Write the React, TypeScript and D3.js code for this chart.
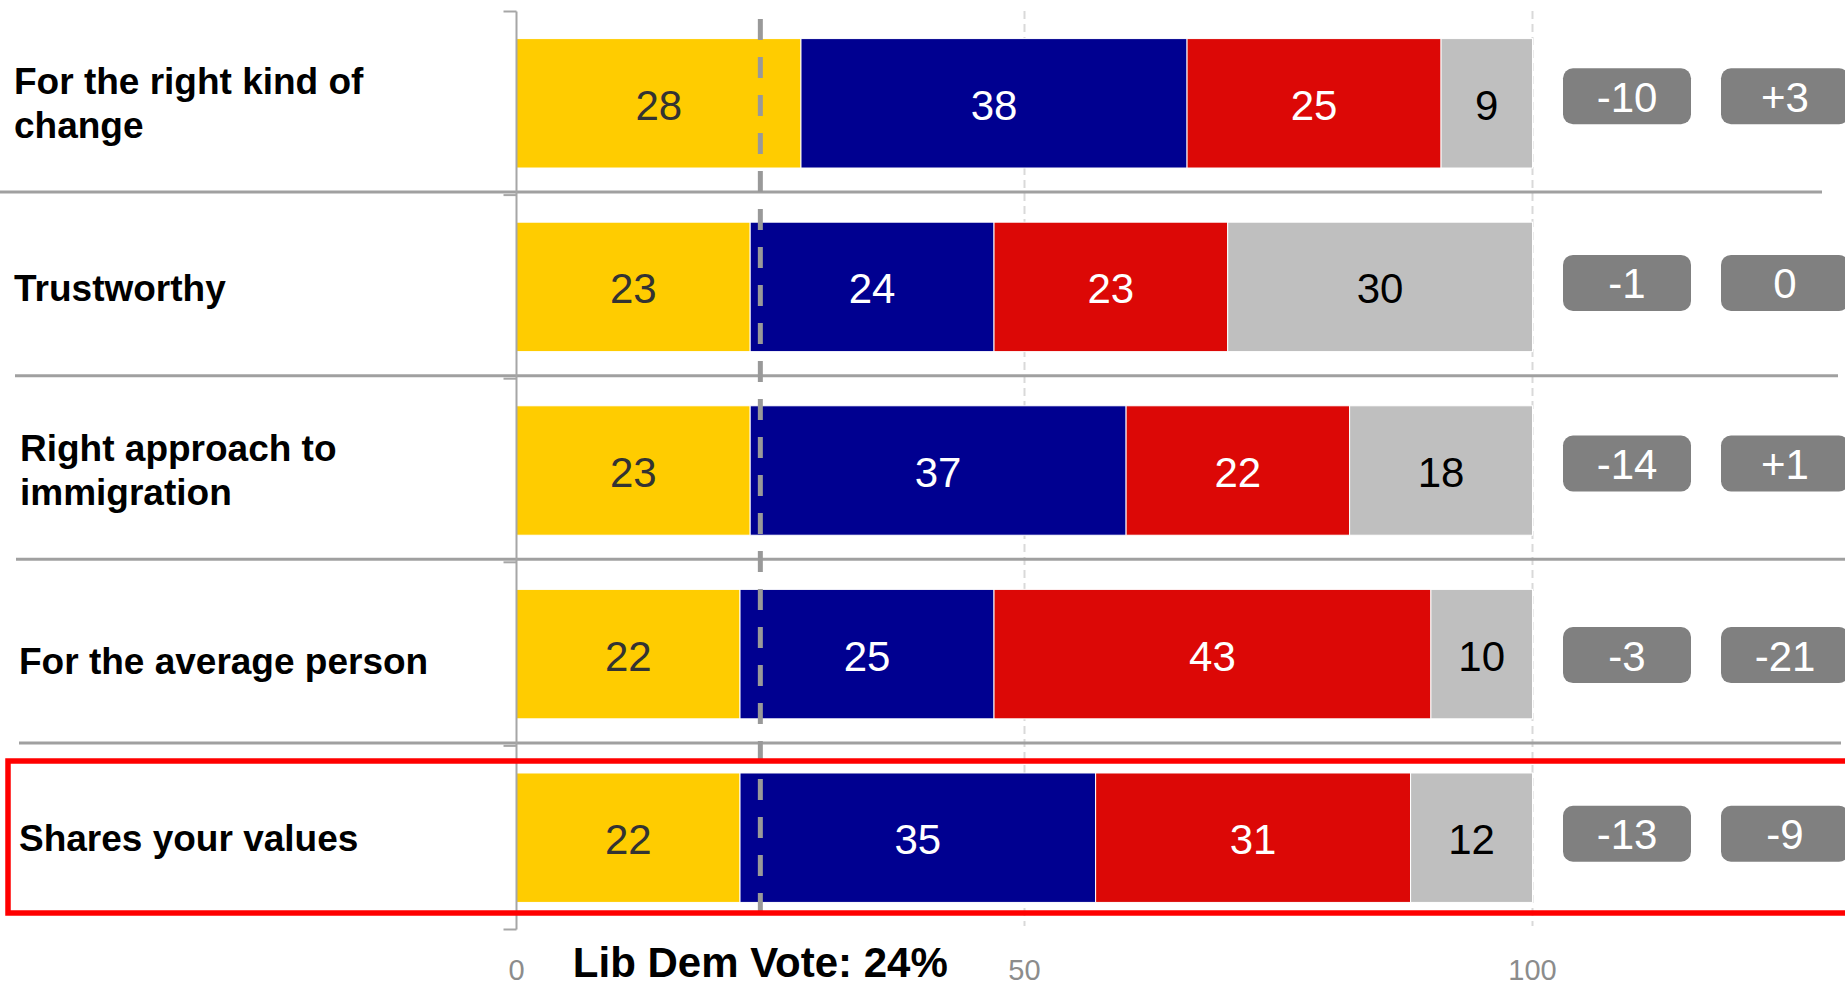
import React from "react";
import * as d3 from "d3";

const categories = [
  ["For the right kind of", "change"],
  ["Trustworthy"],
  ["Right approach to", "immigration"],
  ["For the average person"],
  ["Shares your values"],
];
const parties = ["LibDem", "Con", "Lab", "DK"];
const libDem = [28, 23, 23, 22, 22];
const con = [38, 24, 37, 25, 35];
const lab = [25, 23, 22, 43, 31];
const dk = [9, 30, 18, 10, 12];
const change1 = ["-10", "-1", "-14", "-3", "-13"];
const change2 = ["+3", "0", "+1", "-21", "-9"];
const xTicks = [0, 50, 100];
const voteShare = 24;
const voteLabel = "Lib Dem Vote: 24%";

const colors: Record<string, string> = {
  LibDem: "#FFCC00",
  Con: "#000090",
  Lab: "#DC0806",
  DK: "#BFBFBF",
};
const labelColors: Record<string, string> = {
  LibDem: "#333333",
  Con: "#FFFFFF",
  Lab: "#FFFFFF",
  DK: "#000000",
};

const W = 1845;
const H = 987;
const FONT = "'Liberation Sans', Arial, Helvetica, sans-serif";

export default function App() {
  const keys = categories.map((_, i) => String(i));
  const x = d3.scaleLinear().domain([0, 100]).range([516.5, 1532.5]);
  const y = d3
    .scaleBand()
    .domain(keys)
    .range([11.5, 929.5])
    .paddingInner(0.295)
    .paddingOuter(0.1475);
  const step = y.step();
  const bw = y.bandwidth();

  const rows = categories.map((c, i) => ({
    LibDem: libDem[i],
    Con: con[i],
    Lab: lab[i],
    DK: dk[i],
  }));
  const stack = d3.stack<any>().keys(parties)(rows);

  const boundaries = d3.range(0, categories.length + 1).map((k) => 11.5 + k * step);
  const dividerX0 = [0, 15, 16, 19];
  const dividerX1 = [1822, 1838, 1845, 1841];
  const badgeOffset = [-7, -4, -7, 1, -4];
  const labelX = [14, 14, 20, 19, 19];
  const labelOffset = [0, 2, 0, 7, 1];

  return (
    <svg
      width={W}
      height={H}
      style={{ position: "absolute", left: 0, top: 0, background: "#fff" }}
      fontFamily={FONT}
    >
      {/* gridlines */}
      {xTicks
        .filter((t) => t > 0)
        .map((t) => (
          <line
            key={"g" + t}
            x1={x(t)}
            x2={x(t)}
            y1={11}
            y2={926}
            stroke="#d9d9d9"
            strokeWidth={2}
            strokeDasharray="8,5"
          />
        ))}

      {/* dividers */}
      {boundaries.slice(1, -1).map((b, k) => (
        <line
          key={"d" + k}
          x1={dividerX0[k]}
          x2={dividerX1[k]}
          y1={b - 3}
          y2={b - 3}
          stroke="#a0a0a0"
          strokeWidth={3}
        />
      ))}

      {/* bars */}
      {stack.map((s) => (
        <g key={s.key}>
          {s.map((d, i) => (
            <rect
              key={i}
              x={x(d[0])}
              y={y(keys[i])}
              width={x(d[1]) - x(d[0])}
              height={bw}
              fill={colors[s.key]}
              stroke="#ffffff"
              strokeWidth={1}
            />
          ))}
          {s.map((d, i) => (
            <text
              key={"t" + i}
              x={(x(d[0]) + x(d[1])) / 2}
              y={(y(keys[i]) as number) + bw / 2 + 2}
              textAnchor="middle"
              dominantBaseline="central"
              fontSize={42}
              fill={labelColors[s.key]}
            >
              {d[1] - d[0]}
            </text>
          ))}
        </g>
      ))}

      {/* axis */}
      <line x1={x(0)} x2={x(0)} y1={boundaries[0]} y2={boundaries[boundaries.length - 1]} stroke="#a6a6a6" strokeWidth={2} />
      {boundaries.map((b, k) => (
        <line key={"tk" + k} x1={x(0) - 13} x2={x(0)} y1={b} y2={b} stroke="#a6a6a6" strokeWidth={2} />
      ))}
      {xTicks.map((t) => (
        <text key={"xt" + t} x={x(t)} y={980} textAnchor="middle" fontSize={29} fill="#8c8c8c">
          {t}
        </text>
      ))}

      {/* lib dem vote line */}
      <line
        x1={x(voteShare)}
        x2={x(voteShare)}
        y1={19}
        y2={928}
        stroke="#999999"
        strokeWidth={5}
        strokeDasharray="21,17"
      />
      <text x={x(voteShare)} y={977} textAnchor="middle" fontSize={42} fontWeight="bold" fill="#000">
        {voteLabel}
      </text>

      {/* category labels */}
      {categories.map((lines, i) => {
        const cy = (y(keys[i]) as number) + bw / 2 + labelOffset[i];
        const lx = labelX[i];
        return (
          <text key={"c" + i} x={lx} fontSize={37} fontWeight="bold" fill="#000">
            {lines.map((ln, j) => (
              <tspan
                key={j}
                x={lx}
                y={cy + (j - (lines.length - 1) / 2) * 44}
                dominantBaseline="central"
              >
                {ln}
              </tspan>
            ))}
          </text>
        );
      })}

      {/* badges */}
      {categories.map((_, i) => {
        const cy = (y(keys[i]) as number) + bw / 2 + badgeOffset[i];
        return (
          <g key={"b" + i}>
            {[change1[i], change2[i]].map((v, j) => {
              const bx = 1563 + j * 158;
              return (
                <g key={j}>
                  <rect x={bx} y={cy - 28} width={128} height={56} rx={10} ry={10} fill="#808080" />
                  <text
                    x={bx + 64}
                    y={cy + 1}
                    textAnchor="middle"
                    dominantBaseline="central"
                    fontSize={42}
                    fill="#ffffff"
                  >
                    {v}
                  </text>
                </g>
              );
            })}
          </g>
        );
      })}

      {/* highlight box */}
      <rect x={8} y={761} width={1860} height={152} fill="none" stroke="#ff0000" strokeWidth={5.5} />
    </svg>
  );
}
